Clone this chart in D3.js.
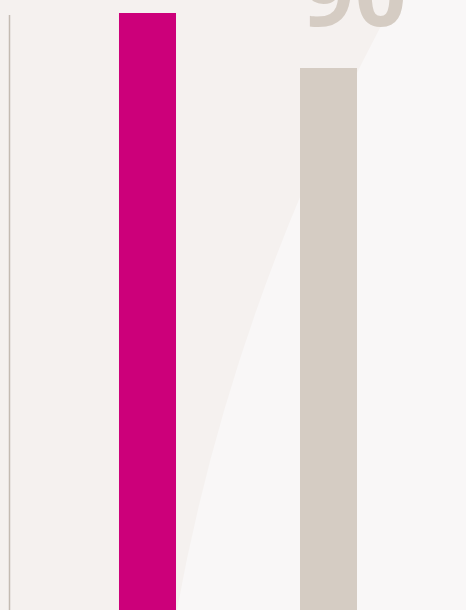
<!DOCTYPE html>
<html>
<head>
<meta charset="utf-8">
<script src="https://cdn.jsdelivr.net/npm/d3@7"></script>
<style>
  body { margin: 0; background: #f5f1ef; }
  svg { display: block; }
</style>
</head>
<body>
<div id="chart-container"></div>
<script>
   const categories = ["A", "B"];
   const values = [96, 90];
   const colors = ["#cc007a", "#d5ccc3"];
   const labels = ["", "90"];

   const width = 466;
   const height = 610;

   const svg = d3.select("#chart-container")
       .append("svg")
       .attr("width", width)
       .attr("height", height);

   // background: light panel on the right with curved edge
   svg.append("rect")
       .attr("width", width)
       .attr("height", height)
       .attr("fill", "#f5f1ef");

   svg.append("path")
       .attr("d", "M395,0 Q234,295 177,610 L466,610 L466,0 Z")
       .attr("fill", "#f9f7f7");

   const x = d3.scaleBand()
       .domain(categories)
       .range([-5, 481])
       .padding(0.685);

   const y = d3.scaleLinear()
       .domain([0, 96])
       .range([893, 13]);

   // axis line
   svg.append("line")
       .attr("x1", 9.5)
       .attr("x2", 9.5)
       .attr("y1", 15)
       .attr("y2", height)
       .attr("stroke", "#c4bbb2")
       .attr("stroke-width", 1.5);

   svg.selectAll(".bar")
       .data(categories)
       .join("rect")
       .attr("class", "bar")
       .attr("x", d => x(d))
       .attr("width", x.bandwidth())
       .attr("y", (d, i) => y(values[i]))
       .attr("height", (d, i) => y(0) - y(values[i]))
       .attr("fill", (d, i) => colors[i]);

   svg.selectAll(".label")
       .data(categories)
       .join("text")
       .attr("class", "label")
       .attr("x", d => x(d) + x.bandwidth() - 2)
       .attr("y", 26)
       .attr("text-anchor", "middle")
       .attr("font-family", "'Open Sans', sans-serif")
       .attr("font-weight", "bold")
       .attr("font-size", 90)
       .attr("letter-spacing", 1)
       .attr("fill", "#d5ccc3")
       .text((d, i) => labels[i]);
</script>
</body>
</html>
